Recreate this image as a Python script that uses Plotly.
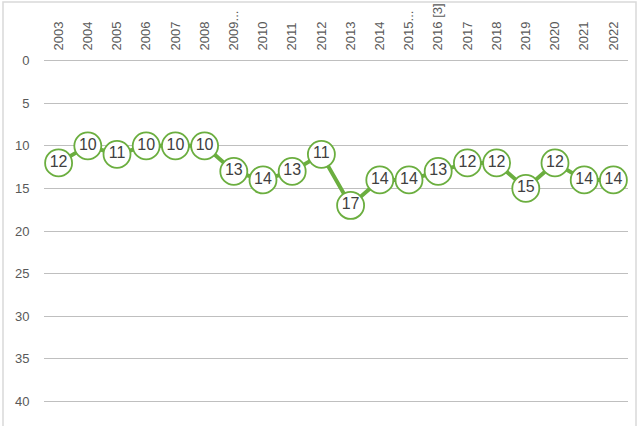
import plotly.graph_objects as go

years = ["2003", "2004", "2005", "2006", "2007", "2008", "2009...", "2010", "2011", "2012",
         "2013", "2014", "2015...", "2016 [3]", "2017", "2018", "2019", "2020", "2021", "2022"]
ranks = [12, 10, 11, 10, 10, 10, 13, 14, 13, 11, 17, 14, 14, 13, 12, 12, 15, 12, 14, 14]
y_ticks = [0, 5, 10, 15, 20, 25, 30, 35, 40]

green = "#6BAE3F"

fig = go.Figure()
fig.add_trace(go.Scatter(
    x=years, y=ranks,
    mode="lines+markers+text",
    line=dict(color=green, width=4),
    marker=dict(size=27, color="white", line=dict(color=green, width=1.8)),
    text=[str(v) for v in ranks],
    textposition="middle center",
    textfont=dict(family="Liberation Sans, Arial, sans-serif", size=16, color="#404040"),
    cliponaxis=False,
    hoverinfo="skip",
))

L, R, T, B = 44, 10, 59, 23
W, H = 638, 426
pw, ph = W - L - R, H - T - B

fig.update_layout(
    width=W, height=H,
    margin=dict(l=L, r=R, t=T, b=B, autoexpand=False),
    paper_bgcolor="white", plot_bgcolor="white",
    showlegend=False,
    font=dict(family="Liberation Sans, Arial, sans-serif", size=13, color="#595959"),
    xaxis=dict(
        type="category", side="top", tickangle=-90, automargin=False,
        range=[-0.5, len(years) - 0.5],
        showgrid=False, zeroline=False, showline=False,
        ticks="outside", ticklen=5, tickcolor="rgba(0,0,0,0)",
        tickfont=dict(size=13, color="#595959"),
    ),
    yaxis=dict(
        range=[40.2, -0.2], tickvals=y_ticks, automargin=False,
        showgrid=True, gridcolor="#BFBFBF", gridwidth=1,
        zeroline=False, showline=False,
        ticks="outside", ticklen=11, tickcolor="rgba(0,0,0,0)",
        tickfont=dict(size=13, color="#595959"),
    ),
    shapes=[dict(
        type="rect", xref="paper", yref="paper",
        x0=(3 - L) / pw, x1=(636 - L) / pw,
        y0=(H - B - 440) / ph, y1=(H - B - 2) / ph,
        line=dict(color="#D9D9D9", width=1.5), fillcolor="rgba(0,0,0,0)",
        layer="below",
    )],
)

fig.write_html("out.html", config={"displayModeBar": False},
               post_script="document.body.style.margin='0';document.body.style.overflow='hidden';")
